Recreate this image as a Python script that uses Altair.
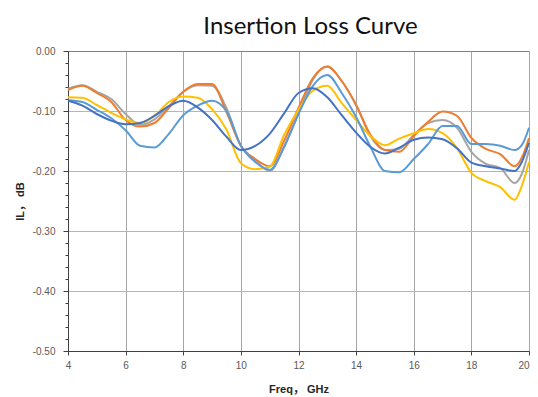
import altair as alt
import pandas as pd

freq = [4.0, 4.5, 5.0, 5.5, 6.0, 6.5, 7.0, 7.5, 8.0, 8.5, 9.0, 9.5, 10.0, 10.5,
        11.0, 11.5, 12.0, 12.5, 13.0, 13.5, 14.0, 14.5, 15.0, 15.5, 16.0, 16.5,
        17.0, 17.5, 18.0, 18.5, 19.0, 19.5, 19.75, 20.0]

s_orange = [-0.065, -0.058, -0.070, -0.085, -0.115, -0.126, -0.120, -0.095, -0.068, -0.055,
            -0.055, -0.102, -0.158, -0.180, -0.192, -0.150, -0.095, -0.045, -0.026, -0.050,
            -0.090, -0.140, -0.165, -0.168, -0.142, -0.118, -0.101, -0.108, -0.145, -0.163,
            -0.172, -0.192, -0.178, -0.145]
s_gray = [-0.063, -0.057, -0.068, -0.080, -0.105, -0.123, -0.114, -0.092, -0.068, -0.057,
          -0.058, -0.095, -0.158, -0.182, -0.200, -0.160, -0.104, -0.048, -0.026, -0.050,
          -0.090, -0.142, -0.165, -0.163, -0.140, -0.120, -0.115, -0.128, -0.168, -0.188,
          -0.195, -0.220, -0.205, -0.165]
s_yellow = [-0.077, -0.078, -0.090, -0.103, -0.114, -0.120, -0.108, -0.085, -0.076, -0.078,
            -0.097, -0.131, -0.187, -0.197, -0.193, -0.140, -0.098, -0.066, -0.058, -0.087,
            -0.115, -0.142, -0.157, -0.146, -0.137, -0.130, -0.137, -0.162, -0.203, -0.217,
            -0.227, -0.248, -0.225, -0.185]
s_lightblue = [-0.082, -0.085, -0.098, -0.112, -0.132, -0.158, -0.161, -0.138, -0.107, -0.091,
               -0.083, -0.100, -0.158, -0.185, -0.198, -0.160, -0.105, -0.058, -0.040, -0.070,
               -0.110, -0.160, -0.200, -0.202, -0.180, -0.155, -0.125, -0.125, -0.155, -0.155,
               -0.158, -0.165, -0.157, -0.128]
s_darkblue = [-0.083, -0.091, -0.105, -0.116, -0.122, -0.120, -0.108, -0.092, -0.083, -0.094,
              -0.115, -0.143, -0.165, -0.158, -0.138, -0.104, -0.070, -0.062, -0.077, -0.107,
              -0.136, -0.160, -0.171, -0.161, -0.148, -0.144, -0.147, -0.162, -0.186, -0.192,
              -0.196, -0.200, -0.185, -0.153]

series_names = ["S1", "S2", "S3", "S4", "S5"]
series_colors = ["#A5A5A5", "#ED7D31", "#FFC000", "#5B9BD5", "#4472C4"]
series_values = [s_gray, s_orange, s_yellow, s_lightblue, s_darkblue]

x_ticks = [4, 6, 8, 10, 12, 14, 16, 18, 20]
y_ticks = [round(-0.5 + 0.02 * i, 2) for i in range(26)]

rows = []
for name, vals in zip(series_names, series_values):
    for f, v in zip(freq, vals):
        rows.append({"freq": f, "il": v, "series": name})
df = pd.DataFrame(rows)

major = "abs(round(datum.value*50)) % 5 == 0"
font = "Liberation Sans, Noto Sans CJK SC"

chart = alt.Chart(df).mark_line(strokeWidth=2, interpolate="monotone").encode(
    x=alt.X("freq:Q", scale=alt.Scale(domain=[4, 20], nice=False),
            axis=alt.Axis(values=x_ticks, title="Freq， GHz", format="d",
                          grid=True, gridColor="#A6A6A6", gridWidth=1,
                          domainColor="#404040", tickColor="#404040", tickSize=4,
                          labelAlign={"condition": {"test": "datum.value >= 20", "value": "right"}, "value": "center"},
                          labelPadding=5, labelFont=font, labelFontSize=10,
                          labelColor="#595959", titleFont=font, titleFontSize=11,
                          titleFontWeight="bold", titleColor="#262626",
                          titleBaseline="middle", titleY=38)),
    y=alt.Y("il:Q", scale=alt.Scale(domain=[-0.5, 0], nice=False),
            axis=alt.Axis(values=y_ticks, title="IL， dB",
                          labelExpr="(" + major + ") ? ((datum.value < -0.001 ? '-' : '') + format(abs(datum.value), '.2f')) : ''",
                          grid=True, gridColor="#B5B5B5", gridWidth=1,
                          gridOpacity={"condition": {"test": major + " && datum.value > -0.49 && datum.value < -0.01", "value": 1}, "value": 0},
                          tickSize={"condition": {"test": major, "value": 5}, "value": 3},
                          domainColor="#404040", tickColor="#404040",
                          labelPadding=8, labelFont=font, labelFontSize=10,
                          labelColor="#595959", titleFont=font, titleFontSize=11,
                          titleFontWeight="bold", titleColor="#262626",
                          titleX=-48, titleY=150, titleBaseline="middle")),
    color=alt.Color("series:N", scale=alt.Scale(domain=series_names, range=series_colors),
                    legend=None, sort=series_names),
    order=alt.Order("series:N"),
).properties(
    width=461,
    height=300,
    title=alt.TitleParams("Insertion Loss Curve", font="Lato", fontSize=24,
                          fontWeight="normal", color="#111111", offset=7, dx=12),
    autosize=alt.AutoSizeParams(type="none"),
    padding={"left": 60, "top": 43, "right": 1, "bottom": 44},
).configure_view(stroke="#808080", strokeWidth=1)

chart.save("out.html", embed_options={"renderer": "svg", "actions": False})
